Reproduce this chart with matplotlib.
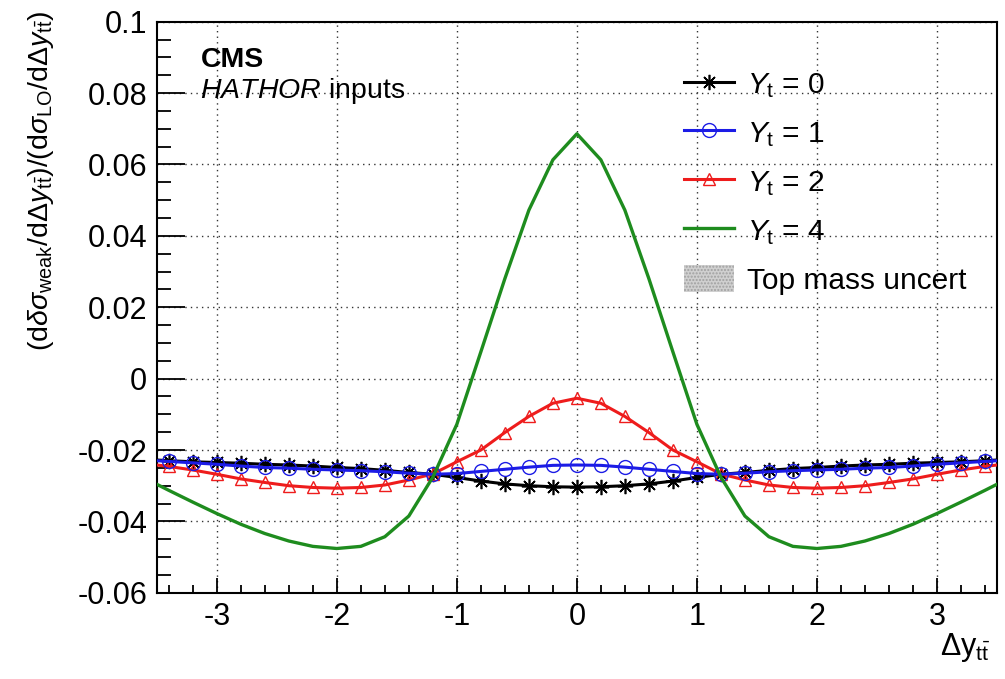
import matplotlib
matplotlib.use('Agg')
from matplotlib import pyplot as plt
from matplotlib.lines import Line2D
from matplotlib.patches import Patch
from matplotlib.ticker import MultipleLocator

plt.rcParams['font.family'] = ['Liberation Sans', 'DejaVu Sans']
plt.rcParams['mathtext.fontset'] = 'custom'
plt.rcParams['mathtext.rm'] = 'Liberation Sans'
plt.rcParams['mathtext.it'] = 'Liberation Sans:italic'
plt.rcParams['mathtext.bf'] = 'Liberation Sans:bold'

# Delta y_ttbar
dy = [-3.5, -3.4, -3.2, -3.0, -2.8, -2.6, -2.4, -2.2, -2.0, -1.8, -1.6, -1.4, -1.2,
      -1.0, -0.8, -0.6, -0.4, -0.2, 0.0, 0.2, 0.4, 0.6, 0.8, 1.0, 1.2, 1.4, 1.6,
      1.8, 2.0, 2.2, 2.4, 2.6, 2.8, 3.0, 3.2, 3.4, 3.5]

yt0 = [-0.0228, -0.0230, -0.0233, -0.0235, -0.0237, -0.0240, -0.0242, -0.0245, -0.0249,
       -0.0252, -0.0257, -0.0263, -0.0268, -0.0277, -0.0287, -0.0295, -0.0300, -0.0303,
       -0.0304,
       -0.0303, -0.0300, -0.0295, -0.0287, -0.0277, -0.0268, -0.0263, -0.0257, -0.0252,
       -0.0249, -0.0245, -0.0242, -0.0240, -0.0237, -0.0235, -0.0233, -0.0230, -0.0228]

yt1 = [-0.0230, -0.0232, -0.0236, -0.0240, -0.0245, -0.0249, -0.0251, -0.0254, -0.0256,
       -0.0258, -0.0261, -0.0265, -0.0268, -0.0266, -0.0260, -0.0254, -0.0248, -0.0243,
       -0.0242,
       -0.0243, -0.0248, -0.0254, -0.0260, -0.0266, -0.0268, -0.0265, -0.0261, -0.0258,
       -0.0256, -0.0254, -0.0251, -0.0249, -0.0245, -0.0240, -0.0236, -0.0232, -0.0230]

yt2 = [-0.0242, -0.0246, -0.0256, -0.0268, -0.0281, -0.0291, -0.0300, -0.0305, -0.0307,
       -0.0305, -0.0298, -0.0284, -0.0267, -0.0233, -0.0200, -0.0151, -0.0106, -0.0069,
       -0.0055,
       -0.0069, -0.0106, -0.0151, -0.0200, -0.0233, -0.0267, -0.0284, -0.0298, -0.0305,
       -0.0307, -0.0305, -0.0300, -0.0291, -0.0281, -0.0268, -0.0256, -0.0246, -0.0242]

yt4 = [-0.0296, -0.0313, -0.0346, -0.0378, -0.0408, -0.0434, -0.0455, -0.0470, -0.0476,
       -0.0470, -0.0443, -0.0385, -0.0276, -0.0128, 0.0075, 0.0280, 0.0472, 0.0613,
       0.0686,
       0.0613, 0.0472, 0.0280, 0.0075, -0.0128, -0.0276, -0.0385, -0.0443, -0.0470,
       -0.0476, -0.0470, -0.0455, -0.0434, -0.0408, -0.0378, -0.0346, -0.0313, -0.0296]

labels = [r'$\mathit{Y}_{\mathrm{t}}$ = 0', r'$\mathit{Y}_{\mathrm{t}}$ = 1',
          r'$\mathit{Y}_{\mathrm{t}}$ = 2', r'$\mathit{Y}_{\mathrm{t}}$ = 4']

fig = plt.figure(figsize=(10.05, 6.79), dpi=100)
ax = fig.add_axes([0.156, 0.127, 0.836, 0.841])

inner = slice(1, -1)
ax.plot(dy, yt0, color='black', lw=2.2, marker=(8, 2, 0), ms=11, mew=1.2,
        markevery=inner, zorder=3)
ax.plot(dy, yt2, color='#ee1c1c', lw=2.2, marker='^', ms=9, mfc='none', mew=1.0,
        markevery=inner, zorder=3)
ax.plot(dy, yt1, color='#1c1ce6', lw=2.2, marker='o', ms=10, mfc='none', mew=1.0,
        markevery=inner, zorder=3)
ax.plot(dy, yt4, color='#1e8c1e', lw=2.4, zorder=4)

ax.set_xlim(-3.5, 3.5)
ax.set_ylim(-0.06, 0.1)
ax.xaxis.set_major_locator(MultipleLocator(1))
ax.xaxis.set_minor_locator(MultipleLocator(0.2))
ax.yaxis.set_major_locator(MultipleLocator(0.02))
ax.yaxis.set_minor_locator(MultipleLocator(0.005))
ax.set_yticks([-0.06, -0.04, -0.02, 0, 0.02, 0.04, 0.06, 0.08, 0.1])
ax.set_yticklabels(['-0.06', '-0.04', '-0.02', '0', '0.02', '0.04', '0.06', '0.08', '0.1'])
ax.set_xticks([-3, -2, -1, 0, 1, 2, 3])
ax.set_xticklabels(['-3', '-2', '-1', '0', '1', '2', '3'])
ax.tick_params(which='both', direction='in', top=False, right=False, labelsize=22,
               width=1.3)
ax.tick_params(axis='y', which='major', length=20, pad=7)
ax.tick_params(axis='y', which='minor', length=10)
ax.tick_params(axis='x', which='major', length=11, pad=7)
ax.tick_params(axis='x', which='minor', length=6)
ax.grid(True, which='major', color='#333333', linestyle=(0, (1, 3)), linewidth=1)
for s in ax.spines.values():
    s.set_linewidth(1.5)

fig.text(0.041, 0.985,
         r'$(\mathrm{d}\delta\sigma_{\mathrm{weak}}/\mathrm{d}\Delta y_{\mathrm{t\bar{t}}})'
         r'/(\mathrm{d}\sigma_{\mathrm{LO}}/\mathrm{d}\Delta y_{\mathrm{t\bar{t}}})$',
         rotation=90, ha='center', va='top', fontsize=20.5)
fig.text(0.985, 0.035, r'$\Delta\mathrm{y}_{\mathrm{t\bar{t}}}$', ha='right',
         va='baseline', fontsize=22)

ax.text(0.052, 0.92, 'CMS', transform=ax.transAxes, fontsize=20.5,
        fontweight='bold', va='baseline')
ax.text(0.052, 0.866, r'$\mathit{HATHOR}$ inputs', transform=ax.transAxes,
        fontsize=20.5, va='baseline')

handles = [
    Line2D([], [], color='black', lw=2.2, marker=(8, 2, 0), ms=11, mew=1.2),
    Line2D([], [], color='#1c1ce6', lw=2.2, marker='o', ms=10, mfc='none', mew=1.0),
    Line2D([], [], color='#ee1c1c', lw=2.2, marker='^', ms=9, mfc='none', mew=1.0),
    Line2D([], [], color='#1e8c1e', lw=2.4),
    Patch(facecolor='#d0d0d0', edgecolor='#a0a0a0', hatch='.....', lw=0),
]
ax.legend(handles, labels + ['Top mass uncert'], loc='upper left',
          bbox_to_anchor=(0.596, 0.963), frameon=False, fontsize=21.5,
          handlelength=1.67, handletextpad=0.43, labelspacing=0.62,
          handleheight=1.0)

fig.savefig('out.png', dpi=100)
